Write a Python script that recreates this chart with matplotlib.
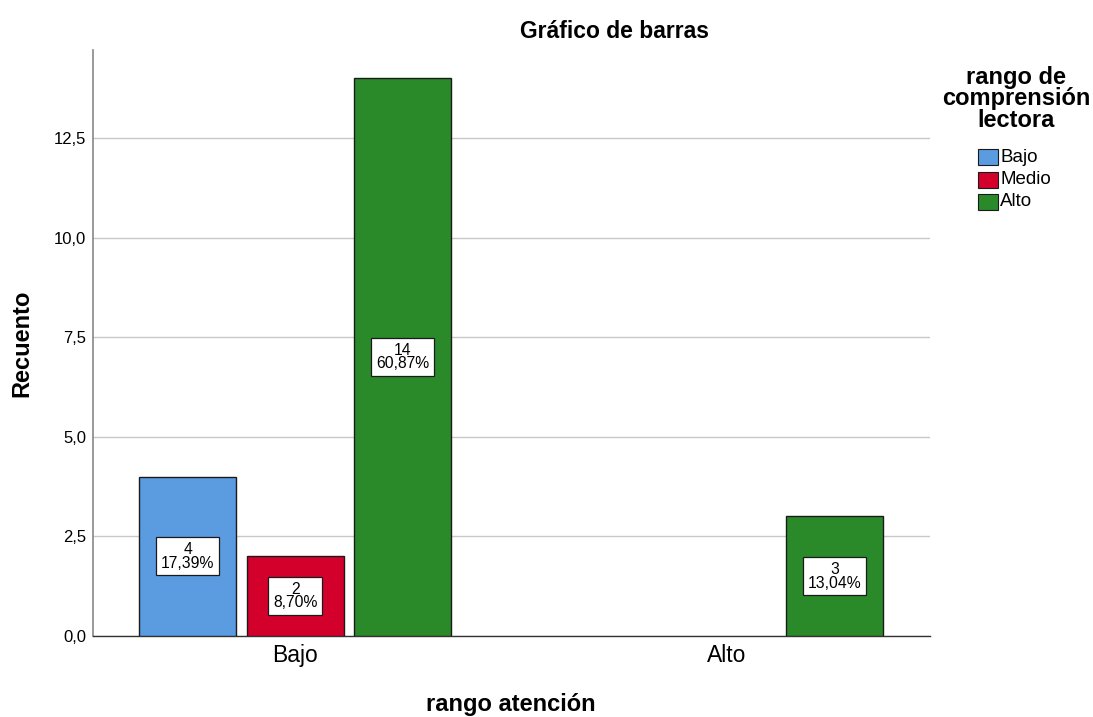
import matplotlib
matplotlib.use("Agg")
import matplotlib.pyplot as plt
import numpy as np
from matplotlib.patches import Rectangle

plt.rcParams['font.family'] = ['Liberation Sans', 'DejaVu Sans']

categories = ["Bajo", "Alto"]
series = ["Bajo", "Medio", "Alto"]
counts = {
    "Bajo": [4, 0],
    "Medio": [2, 0],
    "Alto": [14, 3],
}
percents = {
    "Bajo": ["17,39%", None],
    "Medio": ["8,70%", None],
    "Alto": ["60,87%", "13,04%"],
}
colors = {"Bajo": "#5B9BE0", "Medio": "#D4002C", "Alto": "#2A8A2A"}
yticks = [0, 2.5, 5, 7.5, 10, 12.5]
ytick_labels = ["0,0", "2,5", "5,0", "7,5", "10,0", "12,5"]

fig = plt.figure(figsize=(10.93, 7.17), dpi=100)
ax = fig.add_axes([93/1093, 81/717, (930-93)/1093, (636-50)/717])

x = np.arange(len(categories))
pitch = 0.249
width = 0.225
for i, s in enumerate(series):
    offs = (i - 1) * pitch
    for j, c in enumerate(categories):
        v = counts[s][j]
        if v <= 0:
            continue
        ax.bar(x[j] + offs, v, width=width, color=colors[s], edgecolor="#1a1a1a",
               linewidth=1.0, zorder=3)
        ax.text(x[j] + offs, v / 2, f"{v}\n{percents[s][j]}", ha="center", va="center",
                fontsize=11.3, linespacing=0.88, zorder=4,
                bbox=dict(boxstyle="square,pad=0.3", facecolor="white",
                          edgecolor="#1a1a1a", linewidth=0.9))

ax.set_xlim(-0.468, 1.47)
ax.set_ylim(0, 14.71)
ax.set_yticks(yticks)
ax.set_yticklabels(ytick_labels, fontsize=12)
ax.set_xticks(x)
ax.set_xticklabels(categories, fontsize=16.5)
ax.tick_params(axis='both', length=0)
ax.tick_params(axis='y', pad=5)
ax.tick_params(axis='x', pad=6)
ax.yaxis.grid(True, color="#c8c8c8", linewidth=1.0, zorder=0)
ax.set_axisbelow(True)
for sp in ["top", "right"]:
    ax.spines[sp].set_visible(False)
ax.spines["left"].set_color("#888888")
ax.spines["left"].set_linewidth(1.2)
ax.spines["bottom"].set_color("#333333")
ax.spines["bottom"].set_linewidth(1.0)

fig.text(22/1093, 1 - 343/717, "Recuento", ha="center", va="center", rotation=90,
         fontsize=17, fontweight="bold")
fig.text(511/1093, 1 - 705/717, "rango atención", ha="center", va="center",
         fontsize=17, fontweight="bold")
fig.text(615/1093, 1 - 31/717, "Gráfico de barras", ha="center", va="center",
         fontsize=16.5, fontweight="bold")

# Legend
fig.text(1016/1093, 1 - 99/717, "rango de\ncomprensión\nlectora", ha="center",
         va="center", fontsize=17, fontweight="bold", linespacing=0.92)
for k, s in enumerate(series):
    yc = 157 + 22.5 * k
    fig.patches.append(Rectangle((978/1093, 1 - (yc + 8)/717), 20/1093, 16/717,
                                 transform=fig.transFigure, facecolor=colors[s],
                                 edgecolor="#1a1a1a", linewidth=0.8))
    fig.text(1000/1093, 1 - yc/717, s, ha="left", va="center", fontsize=13.5)

fig.savefig("out.png", dpi=100)
